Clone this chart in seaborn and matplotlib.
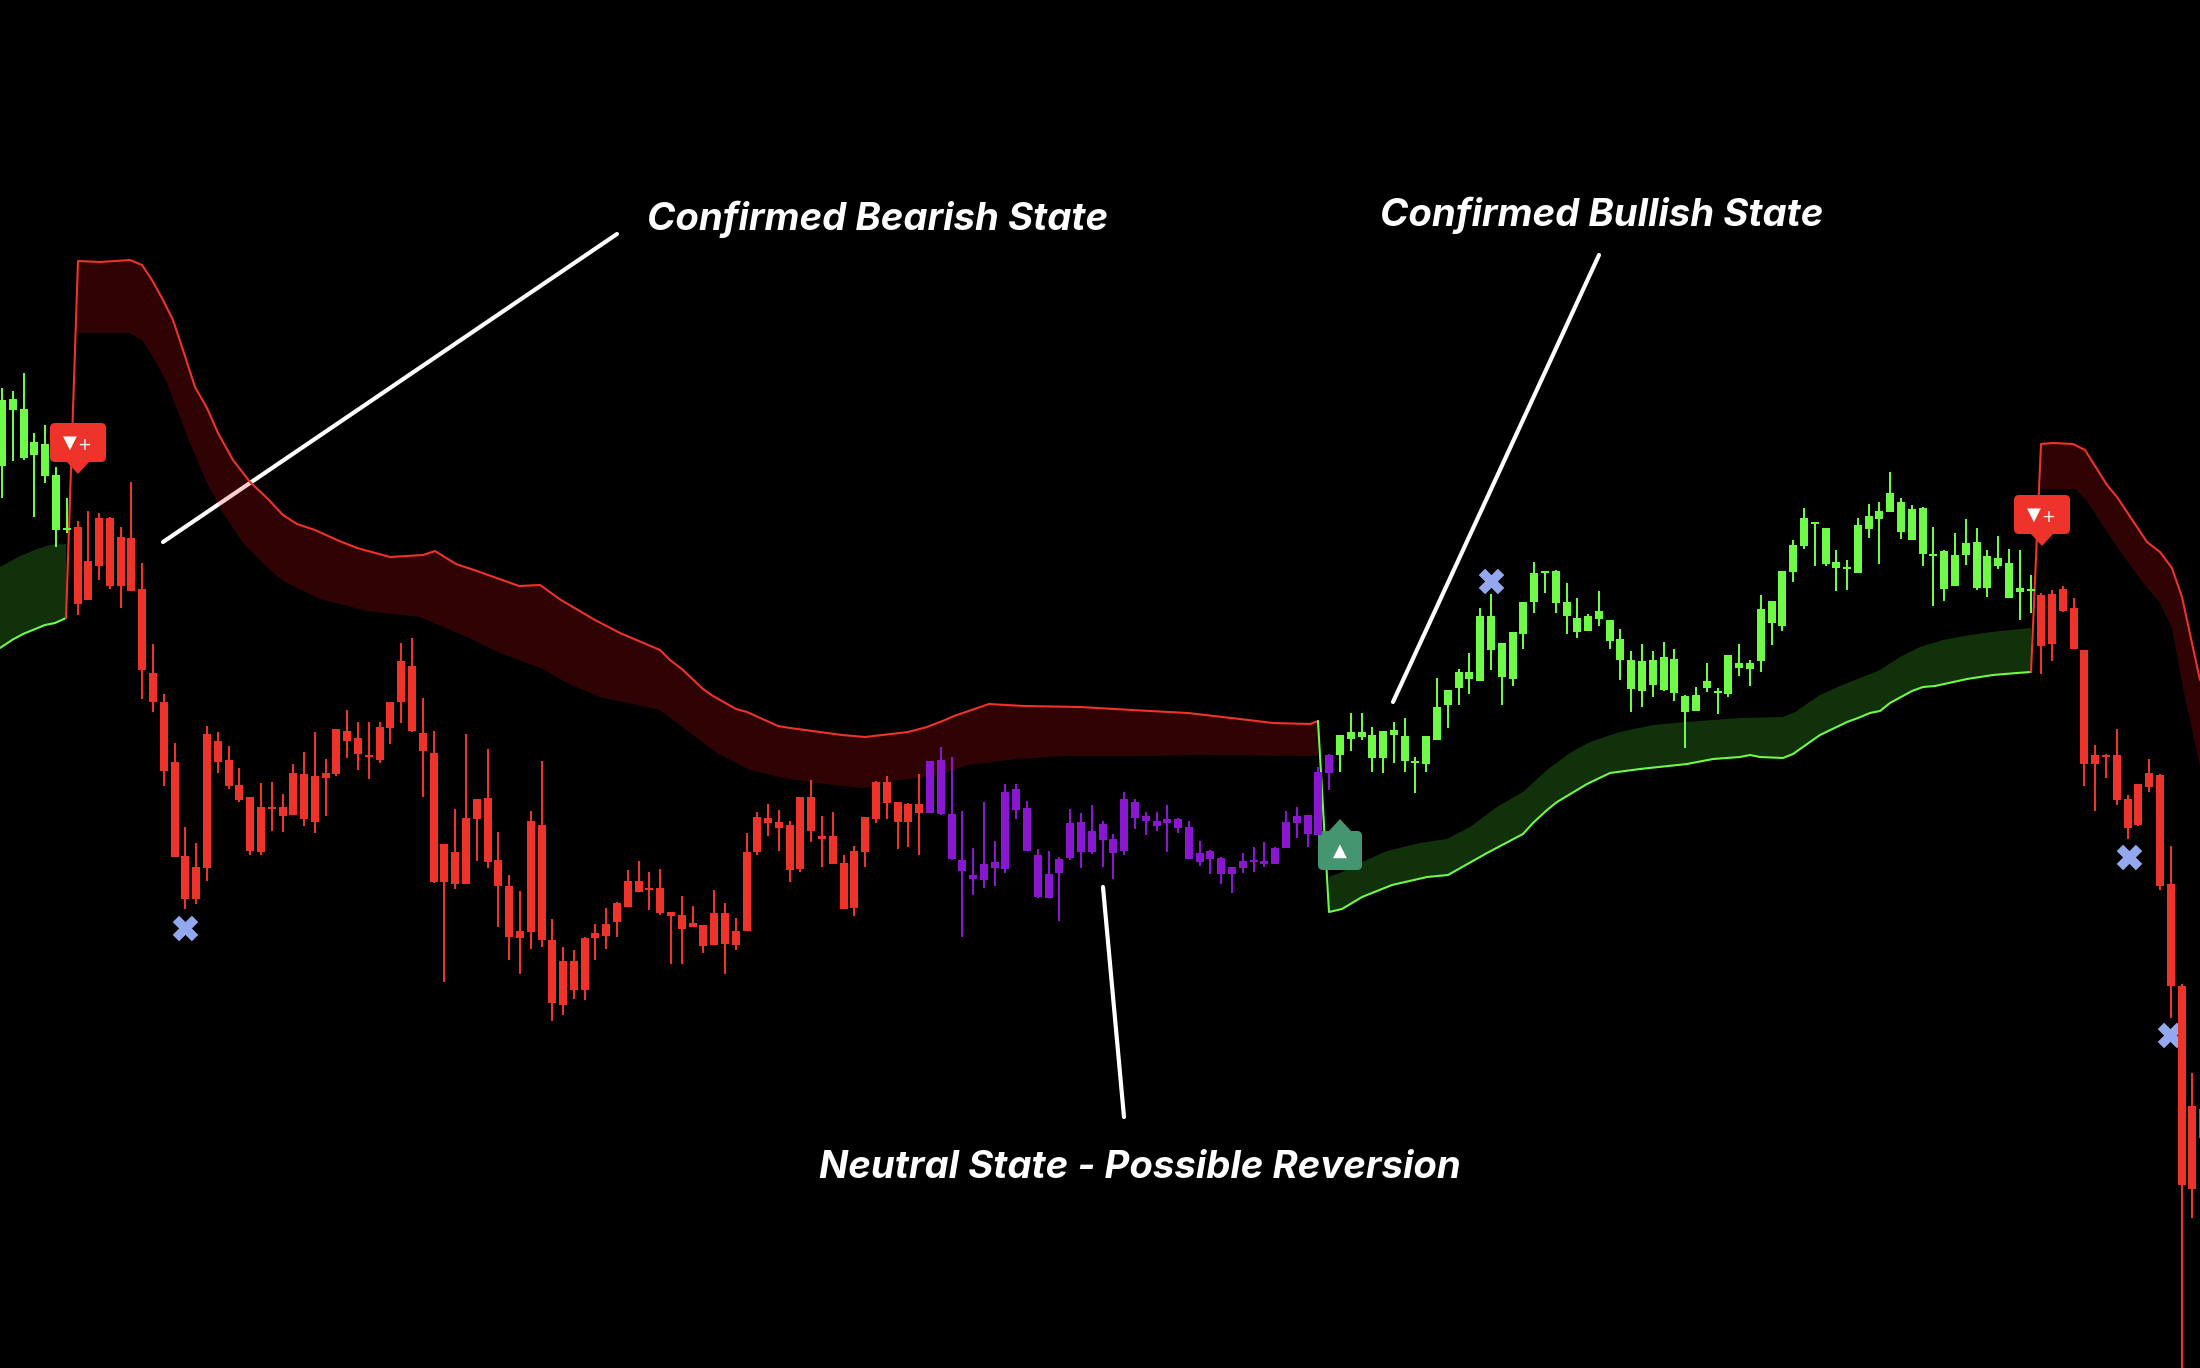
#!/usr/bin/env python3
"""Candlestick chart with trend bands and state annotations, on black."""

import matplotlib
matplotlib.use("Agg")
import matplotlib.pyplot as plt
from matplotlib.patches import FancyBboxPatch, Polygon
import numpy as np
import pandas as pd
import seaborn as sns

# ── Shared style ─────────────────────────────────────────────────────────────
RED = "#EE332A"
GREEN = "#70FA48"
PURPLE = "#8A17D0"
CROSS = "#93A8EE"
TEAL = "#459570"
RED_FILL = "#F01414"
GREEN_FILL = "#5AFA3C"
TEXT_FONT = ["Inter", "Roboto", "DejaVu Sans"]

# ── Data: chart scale runs downwards, bar time in chart units ────────────────
BAR_START = 2
BAR_STEP = 10.79

wick_high = [
    388, 391, 373, 433, 425, 467, 498, 521, 511, 513, 517, 527, 482, 563, 644, 694, 743, 827, 843, 726,
    732, 746, 768, 797, 783, 782, 794, 764, 752, 732, 759, 729, 710, 722, 722, 722, 702, 643, 638, 698,
    731, 844, 809, 734, 799, 749, 832, 875, 891, 811, 761, 919, 947, 950, 937, 924, 908, 902, 870, 861,
    872, 869, 912, 896, 906, 925, 890, 903, 918, 833, 812, 804, 810, 821, 797, 780, 816, 812, 855, 846,
    817, 781, 776, 802, 803, 774, 761, 747, 757, 811, 848, 802, 841, 784, 784, 801, 849, 851, 857, 809,
    813, 805, 821, 834, 792, 799, 812, 812, 805, 818, 821, 841, 850, 857, 867, 853, 847, 842, 847, 811,
    807, 815, 767, 754, 735, 713, 713, 727, 731, 722, 718, 757, 736, 678, 690, 669, 653, 608, 594, 643,
    632, 602, 562, 571, 570, 583, 598, 614, 591, 620, 629, 651, 644, 651, 642, 649, 695, 687, 663, 688,
    655, 644, 660, 595, 601, 571, 540, 508, 522, 528, 550, 560, 518, 504, 502, 472, 498, 505, 507, 527,
    550, 533, 519, 528, 550, 536, 549, 550, 575, 593, 590, 586, 598, 650, 745, 754, 729, 795, 784, 759,
    774, 846, 984, 1073, 1109,
]
body_top = [
    400, 399, 409, 442, 444, 475, 528, 527, 561, 518, 518, 537, 538, 589, 673, 702, 762, 856, 867, 734,
    741, 760, 785, 797, 807, 807, 807, 773, 774, 776, 773, 729, 731, 738, 755, 727, 702, 661, 666, 733,
    753, 844, 852, 818, 799, 798, 860, 886, 931, 821, 825, 940, 961, 961, 938, 933, 924, 903, 881, 881,
    888, 888, 912, 915, 923, 925, 913, 913, 931, 852, 817, 818, 822, 825, 797, 797, 836, 836, 863, 851,
    817, 782, 782, 802, 804, 804, 761, 760, 814, 860, 875, 864, 862, 792, 789, 808, 855, 874, 859, 823,
    822, 831, 824, 839, 799, 802, 816, 821, 819, 819, 827, 853, 851, 858, 867, 861, 860, 861, 848, 822,
    816, 815, 772, 755, 735, 732, 732, 735, 731, 730, 736, 761, 736, 707, 690, 672, 672, 616, 616, 643,
    632, 602, 573, 571, 571, 602, 618, 616, 611, 620, 639, 660, 661, 660, 657, 659, 696, 695, 681, 691,
    655, 663, 663, 609, 601, 571, 545, 518, 522, 528, 562, 567, 525, 516, 511, 493, 502, 509, 508, 554,
    551, 555, 543, 542, 556, 558, 563, 588, 589, 595, 594, 589, 608, 650, 755, 755, 755, 799, 784, 773,
    775, 884, 986, 1106, 1109,
]
body_bot = [
    466, 410, 458, 455, 476, 530, 530, 604, 600, 566, 586, 586, 591, 670, 702, 771, 857, 899, 899, 868,
    762, 786, 800, 851, 852, 809, 816, 815, 819, 822, 778, 774, 741, 754, 757, 760, 728, 702, 731, 751,
    882, 882, 884, 884, 819, 862, 886, 937, 938, 932, 940, 1003, 1005, 990, 990, 938, 936, 922, 907, 892,
    890, 913, 916, 929, 927, 946, 945, 944, 945, 931, 852, 823, 828, 870, 869, 831, 839, 864, 909, 908,
    852, 819, 803, 822, 822, 813, 813, 814, 859, 871, 879, 880, 868, 869, 810, 851, 897, 898, 873, 858,
    852, 852, 840, 853, 851, 818, 821, 826, 823, 828, 859, 862, 859, 874, 874, 868, 862, 864, 864, 848,
    823, 834, 835, 773, 755, 739, 737, 758, 758, 735, 761, 763, 764, 740, 705, 688, 679, 681, 650, 677,
    679, 634, 602, 573, 603, 616, 632, 631, 619, 641, 660, 689, 691, 685, 690, 693, 712, 711, 688, 693,
    694, 668, 669, 661, 623, 626, 572, 546, 524, 564, 568, 569, 573, 529, 519, 512, 532, 540, 554, 556,
    589, 586, 555, 588, 588, 566, 598, 592, 591, 646, 644, 611, 649, 764, 764, 757, 800, 828, 825, 787,
    886, 986, 1185, 1189, 1138,
]
wick_low = [
    498, 461, 460, 517, 483, 547, 533, 615, 600, 580, 589, 608, 591, 699, 712, 786, 857, 909, 904, 881,
    773, 789, 802, 855, 855, 831, 832, 815, 826, 833, 816, 776, 758, 770, 779, 763, 744, 723, 732, 797,
    883, 982, 889, 884, 861, 868, 927, 960, 974, 949, 947, 1021, 1015, 999, 1000, 960, 949, 937, 907, 892,
    910, 915, 964, 964, 927, 953, 945, 974, 950, 931, 855, 836, 851, 882, 872, 842, 867, 864, 909, 916,
    867, 823, 819, 849, 847, 855, 813, 815, 860, 937, 895, 888, 886, 873, 819, 851, 898, 898, 921, 860,
    868, 854, 867, 879, 855, 829, 835, 831, 852, 833, 859, 866, 874, 884, 893, 873, 872, 867, 864, 848,
    838, 847, 835, 790, 772, 751, 740, 772, 773, 763, 772, 793, 772, 740, 728, 705, 694, 681, 670, 705,
    686, 649, 613, 593, 613, 634, 638, 631, 626, 649, 680, 712, 707, 697, 691, 701, 748, 711, 692, 714,
    697, 676, 686, 672, 645, 631, 582, 549, 566, 566, 591, 590, 573, 538, 564, 512, 539, 540, 566, 606,
    601, 586, 565, 590, 597, 569, 598, 620, 613, 674, 661, 612, 649, 786, 811, 778, 805, 839, 826, 792,
    890, 1018, 1368, 1218, 1138,
]
bar_state = ["bull"] * 7 + ["bear"] * 79 + ["neutral"] * 38 + ["bull"] * 65 + ["bear"] * 16

# Green band, left edge of the chart
green1_line_x = [0, 12, 23, 45, 55, 66]
green1_line_y = [648, 640, 634, 625, 623, 618]
green1_edge_x = [0, 20, 40, 50, 66]
green1_edge_y = [567, 556, 548, 545, 544]

# First red band (first point is where the line flips from the green band)
red1_line_x = [66, 78, 100, 130, 142, 152, 163, 173, 183, 195, 207, 218, 233, 250, 267, 283, 297, 315, 337, 357,
               390, 423, 435, 456, 477, 519, 540, 561, 595, 620, 660, 670, 683, 703, 713, 736, 747, 778, 790,
               820, 842, 865, 908, 927, 945, 954, 989, 1024, 1080, 1150, 1188, 1240, 1273, 1310, 1318]
red1_line_y = [618, 261, 262, 260, 265, 280, 300, 320, 350, 387, 408, 433, 460, 482, 498, 515, 524, 530, 540, 548,
               557, 555, 551, 564, 571, 586, 585, 600, 620, 633, 650, 660, 670, 689, 696, 709, 712, 726, 728,
               732, 735, 737, 732, 727, 720, 716, 704, 706, 707, 711, 713, 719, 723, 724, 721]
red1_edge_x = [78, 130, 142, 153, 167, 180, 190, 207, 223, 243, 268, 283, 320, 367, 420, 467, 500, 543, 567, 600,
               660, 693, 717, 750, 783, 811, 833, 863, 900, 940, 967, 1017, 1067, 1133, 1200, 1318]
red1_edge_y = [333, 333, 340, 357, 383, 417, 443, 483, 513, 543, 568, 581, 599, 611, 617, 637, 653, 669, 683, 697,
               710, 735, 753, 770, 778, 782, 785, 788, 780, 775, 765, 759, 756, 756, 755, 756]

# Second green band
green2_line_x = [1318, 1329, 1342, 1362, 1392, 1427, 1448, 1487, 1523, 1533, 1547, 1557, 1587, 1610, 1640, 1687, 1713,
                 1740, 1750, 1760, 1783, 1793, 1810, 1820, 1847, 1858, 1870, 1880, 1890, 1912, 1923, 1935, 1967,
                 1993, 2017, 2031]
green2_line_y = [721, 912, 909, 897, 885, 877, 875, 853, 834, 823, 810, 802, 784, 773, 769, 764, 759,
                 757, 755, 757, 758, 754, 742, 735, 722, 718, 713, 711, 703, 691, 687, 686, 679,
                 675, 673, 672]
green2_edge_x = [1329, 1340, 1360, 1387, 1420, 1447, 1470, 1497, 1523, 1547, 1570, 1590, 1620, 1653, 1687, 1740,
                 1783, 1795, 1820, 1840, 1880, 1900, 1920, 1943, 1970, 2000, 2031]
green2_edge_y = [877, 873, 863, 851, 843, 839, 827, 807, 792, 770, 753, 742, 732, 725, 722, 718,
                 717, 712, 695, 686, 670, 657, 647, 640, 635, 631, 628]

# Second red band, runs off the right edge
red2_line_x = [2031, 2041, 2053, 2073, 2085, 2107, 2117, 2147, 2160, 2172, 2182, 2200]
red2_line_y = [672, 444, 443, 444, 450, 485, 497, 542, 552, 568, 597, 680]
red2_edge_x = [2041, 2075, 2087, 2107, 2118, 2143, 2160, 2172, 2183, 2200]
red2_edge_y = [489, 489, 501, 532, 548, 583, 603, 628, 688, 766]

cross_x = [185, 1491, 2129, 2170]
cross_y = [928, 581, 857, 1035]

# Annotation pointers and captions
pointer_x = [(163, 617), (1393, 1599), (1103, 1124)]
pointer_y = [(542, 234), (702, 255), (887, 1117)]
captions = ["Confirmed Bearish State", "Confirmed Bullish State", "Neutral State - Possible Reversion"]
caption_x = [647, 1380, 819]
caption_y = [230, 226, 1178]


def draw_band(ax, line_x, line_y, edge_x, edge_y, color, fill, flip=True):
    # The first line point is the flip from the previous band, no fill there
    start = 1 if flip else 0
    poly_x = np.r_[line_x[start:], edge_x[::-1]]
    poly_y = np.r_[line_y[start:], edge_y[::-1]]
    ax.fill(poly_x, poly_y, color=fill, alpha=0.2, lw=0, zorder=2)
    sns.lineplot(x=line_x, y=line_y, ax=ax, color=color, lw=1.5, sort=False, estimator=None,
                 legend=False, zorder=2.5)


def draw_candles(ax):
    df = pd.DataFrame({"high": wick_high, "top": body_top, "bot": body_bot, "low": wick_low, "state": bar_state})
    df["t"] = BAR_START + BAR_STEP * np.arange(len(df))
    for state, color in [("bull", GREEN), ("bear", RED), ("neutral", PURPLE)]:
        part = df[df["state"] == state]
        ax.vlines(part["t"], part["high"], part["low"], color=color, lw=1.44, zorder=4)
        ax.bar(part["t"], part["bot"] - part["top"], bottom=part["top"], width=8, color=color, lw=0, zorder=4)


def draw_callout(ax, box, tip, color):
    x0, y0, x1, y1 = box
    ax.add_patch(FancyBboxPatch((x0 + 5, y0 + 5), x1 - x0 - 10, y1 - y0 - 10,
                                boxstyle="round,pad=5,rounding_size=5", fc=color, ec="none", zorder=3))
    base = y1 - 1 if tip[1] > y1 else y0 + 1
    ax.add_patch(Polygon([(tip[0] - 12, base), (tip[0] + 12, base), tip], fc=color, ec="none", zorder=3))


def callout_text(ax, x, y, label, size):
    ax.text(x, y, label, color="white", fontsize=size, ha="center", va="center",
            family="DejaVu Sans", zorder=5)


def main():
    sns.set_theme(style="dark", rc={"axes.facecolor": "black", "figure.facecolor": "black"})

    fig = plt.figure(figsize=(22, 13.68), dpi=100)
    ax = fig.add_axes([0, 0, 1, 1])

    for (px, py) in zip(pointer_x, pointer_y):
        sns.lineplot(x=list(px), y=list(py), ax=ax, color="white", lw=3, sort=False, estimator=None,
                     legend=False, zorder=1, solid_capstyle="round")

    draw_band(ax, green1_line_x, green1_line_y, green1_edge_x, green1_edge_y, GREEN, GREEN_FILL, flip=False)
    draw_band(ax, red1_line_x, red1_line_y, red1_edge_x, red1_edge_y, RED, RED_FILL)
    draw_band(ax, green2_line_x, green2_line_y, green2_edge_x, green2_edge_y, GREEN, GREEN_FILL)
    draw_band(ax, red2_line_x, red2_line_y, red2_edge_x, red2_edge_y, RED, RED_FILL)

    sns.scatterplot(x=cross_x, y=cross_y, ax=ax, marker="X", s=340, color=CROSS, linewidth=0, legend=False, zorder=3)

    draw_callout(ax, (50, 423, 106, 462), (78, 474), RED)
    callout_text(ax, 70, 443, "▼", 13)
    callout_text(ax, 84, 445, "+", 12)
    draw_callout(ax, (2014, 495, 2070, 534), (2042, 546), RED)
    callout_text(ax, 2034, 515, "▼", 13)
    callout_text(ax, 2048, 517, "+", 12)
    draw_callout(ax, (1318, 831, 1362, 870), (1340, 819), TEAL)
    callout_text(ax, 1340, 851, "▲", 13)

    draw_candles(ax)

    for label, tx, ty in zip(captions, caption_x, caption_y):
        ax.text(tx, ty, label, color="white", fontsize=27.6, fontweight="bold", fontstyle="italic",
                family=TEXT_FONT, ha="left", va="baseline", zorder=5)

    ax.set_xlim(0, 2200)
    ax.set_ylim(1368, 0)
    ax.axis("off")

    fig.savefig("out.png", dpi=100, facecolor="black")
    plt.close(fig)


if __name__ == "__main__":
    main()
